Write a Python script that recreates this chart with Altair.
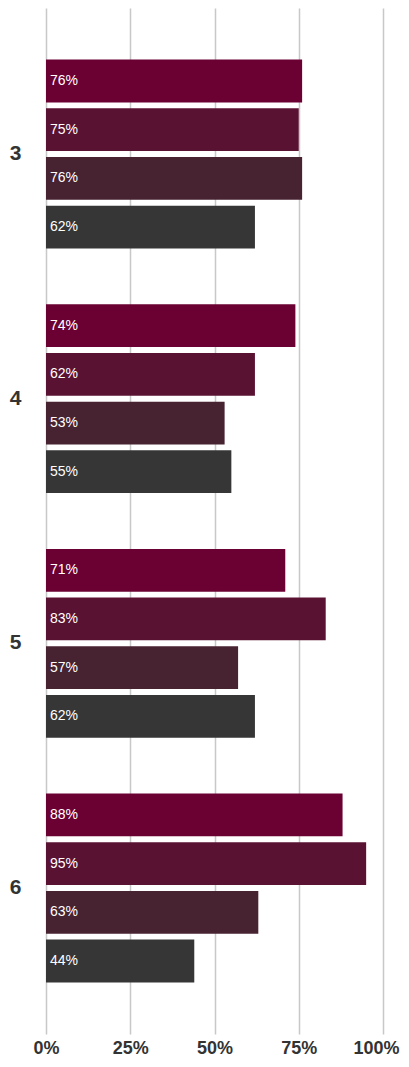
import altair as alt
import pandas as pd

groups = ["3", "4", "5", "6"]
series = ["Series 1", "Series 2", "Series 3", "Series 4"]
values = {
    "3": [76, 75, 76, 62],
    "4": [74, 62, 53, 55],
    "5": [71, 83, 57, 62],
    "6": [88, 95, 63, 44],
}
colors = ["#6b0032", "#5a1232", "#472231", "#363636"]
x_ticks = [0, 0.25, 0.5, 0.75, 1.0]

rows = []
for g in groups:
    for s, v in zip(series, values[g]):
        rows.append({"group": g, "series": s, "value": v / 100, "label": f"{v}%"})
df = pd.DataFrame(rows)

y = alt.Y("group:N", sort=groups, title=None,
          scale=alt.Scale(paddingInner=0.228, paddingOuter=0.211),
          axis=alt.Axis(labelFontSize=21, labelFontWeight="bold", labelColor="#333333",
                        labelFont="Liberation Sans", ticks=False, domain=False,
                        labelPadding=25, grid=False))
yoff = alt.YOffset("series:N", sort=series,
                   scale=alt.Scale(paddingInner=0.122, paddingOuter=0))
x = alt.X("value:Q", title=None,
          scale=alt.Scale(domain=[0, 1], nice=False),
          axis=alt.Axis(values=x_ticks, format=".0%", labelFontSize=18, labelFontWeight="bold",
                        labelColor="#333333", labelFont="Liberation Sans", ticks=False,
                        labelFlush=False,
                        labelOffset={"condition": {"test": "datum.value == 1", "value": -7}, "value": 0},
                        domain=False, labelPadding=5, gridColor="#c8c8c8", gridWidth=1.5))

bars = alt.Chart(df).mark_bar().encode(
    x=x, y=y, yOffset=yoff,
    color=alt.Color("series:N", sort=series, legend=None,
                    scale=alt.Scale(domain=series, range=colors)),
)
text = alt.Chart(df).mark_text(align="left", baseline="middle", dx=4, color="white",
                               fontSize=14, font="Liberation Sans").encode(
    x=alt.datum(0), y=alt.Y("group:N", sort=groups), yOffset=alt.YOffset("series:N", sort=series),
    text="label:N",
)

chart = alt.layer(bars, text).properties(
    width=337, height=1026,
    autosize=alt.AutoSizeParams(type="none"),
    padding={"left": 38, "top": 0, "right": 18, "bottom": 25},
).configure_view(stroke=None)

chart.save("out.html", embed_options={"renderer": "svg", "actions": False})
